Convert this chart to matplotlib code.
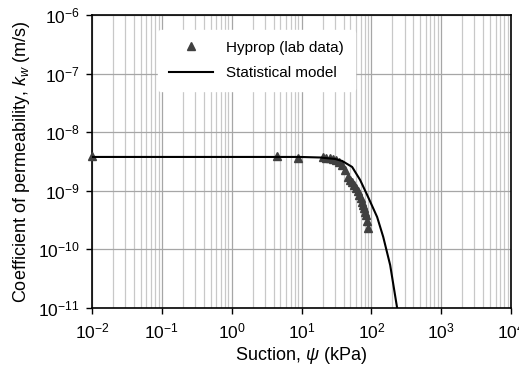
import numpy as np
import matplotlib
matplotlib.use('Agg')
import matplotlib.pyplot as plt
from matplotlib.ticker import LogLocator, NullFormatter

plt.rcParams['font.family'] = ['Liberation Sans', 'DejaVu Sans']
plt.rcParams['mathtext.fontset'] = 'custom'
plt.rcParams['mathtext.rm'] = 'Liberation Sans'
plt.rcParams['mathtext.it'] = 'Liberation Sans:italic'

# Datos de laboratorio (Hyprop)
suction_lab = [0.01, 4.5, 8.9, 20.4, 22.5, 25.7, 28.0, 31.3, 34.5, 38.2, 42.0,
               46.5, 49.5, 53.1, 57.0, 60.5, 63.5, 66.8, 70.0, 73.8, 76.5,
               78.8, 81.5, 84.3, 87.1, 90.0]
k_lab = [3.9e-9, 3.9e-9, 3.6e-9, 3.7e-9, 3.65e-9, 3.6e-9, 3.45e-9, 3.35e-9,
         3.1e-9, 2.75e-9, 2.3e-9, 1.72e-9, 1.55e-9, 1.41e-9, 1.25e-9, 1.12e-9,
         9.8e-10, 8.5e-10, 7.4e-10, 6.4e-10, 5.7e-10, 5.1e-10, 4.4e-10,
         3.9e-10, 3.05e-10, 2.32e-10]

# Modelo estadistico
suction_model = [0.01, 1.0, 9.55, 18.5, 30.3, 38.2, 53.1, 69.1, 90.0, 121,
                 148, 186, 234, 300]
k_model = [3.78e-9, 3.78e-9, 3.78e-9, 3.70e-9, 3.49e-9, 3.23e-9, 2.55e-9,
           1.53e-9, 7.8e-10, 3.57e-10, 1.63e-10, 5.4e-11, 1.0e-11, 2.2e-12]

fig = plt.figure(figsize=(5.19, 3.70), dpi=100)
ax = fig.add_axes([0.1773, 0.1676, 0.8073, 0.7919])

ax.set_xscale('log')
ax.set_yscale('log')
ax.set_xlim(1e-2, 1e4)
ax.set_ylim(1e-11, 1e-6)

ax.xaxis.set_major_locator(LogLocator(base=10, numticks=10))
ax.xaxis.set_minor_locator(LogLocator(base=10, subs=np.arange(2, 10), numticks=20))
ax.xaxis.set_minor_formatter(NullFormatter())
ax.yaxis.set_minor_locator(plt.NullLocator())

ax.grid(True, which='major', axis='both', color='#a6a6a6', lw=0.9)
ax.grid(True, which='minor', axis='x', color='#c8c8c8', lw=0.9)
ax.set_axisbelow(True)

ax.plot(suction_lab, k_lab, '^', color='#404040', ms=6, clip_on=False,
        label='Hyprop (lab data)', zorder=3)
ax.plot(suction_model, k_model, '-', color='black', lw=1.5,
        label='Statistical model', zorder=4)

for s in ax.spines.values():
    s.set_color('black')
    s.set_linewidth(1.2)

ax.tick_params(which='major', direction='out', length=4, width=1, labelsize=12.5,
               colors='black')
ax.tick_params(which='minor', length=0)
ax.tick_params(axis='x', pad=6)
ax.tick_params(axis='y', pad=5)

ax.set_xlabel('Suction, $\\psi$ (kPa)', fontsize=13, labelpad=2)
ax.set_ylabel('Coefficient of permeability, $k_w$ (m/s)', fontsize=13,
              labelpad=4)

leg = ax.legend(loc='upper left', bbox_to_anchor=(0.14, 0.975), fontsize=11,
                frameon=True, handlelength=2.9, handletextpad=0.85,
                borderpad=0.7, labelspacing=0.75)
leg.get_frame().set_facecolor('white')
leg.get_frame().set_edgecolor('white')
leg.get_frame().set_alpha(1)

fig.savefig('out.png', dpi=100)
